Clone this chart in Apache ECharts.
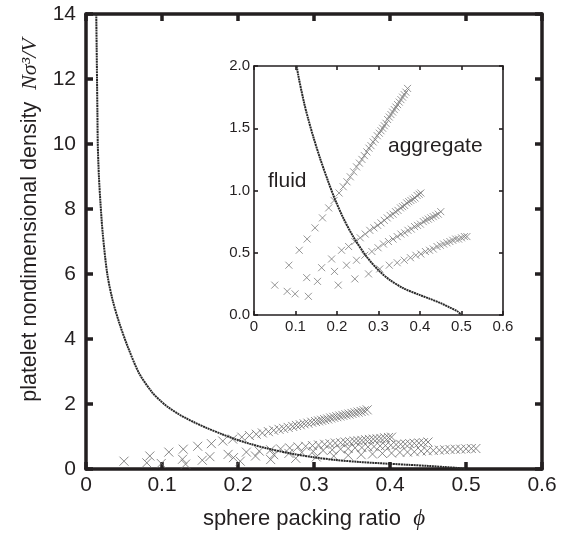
<!DOCTYPE html>
<html>
<head>
<meta charset="utf-8">
<script src="https://cdn.jsdelivr.net/npm/echarts@6/dist/echarts.min.js"></script>
<style>
html,body{margin:0;padding:0;background:#fff;}
#c{width:568px;height:534px;}
</style>
</head>
<body>
<div id="c"></div>
<script>
// Boundary curve (phi, density)
var curveX = [0.0135,0.014,0.0145,0.015,0.0155,0.017,0.019,0.022,0.028,0.035,0.044,0.055,0.070,0.087,0.097,0.107,0.121,0.131,0.143,0.159,0.179,0.195,0.215,0.239,0.271,0.300,0.328,0.360,0.400,0.424,0.450,0.472,0.490,0.500];
var curveY = [14,13,12,11,10,9,8.2,7.25,6.0,5.2,4.48,3.76,2.94,2.36,2.12,1.92,1.70,1.57,1.43,1.26,1.07,0.93,0.78,0.63,0.47,0.36,0.28,0.215,0.16,0.13,0.095,0.06,0.03,0.0];

// Cross series A
var aX = [0.050,0.084,0.109,0.128,0.147,0.165,0.180,0.193,0.205,0.215,0.224,0.232,0.240,0.247,0.254,0.260,0.266,0.272,0.277,0.282,0.287,0.292,0.297,0.302,0.306,0.310,0.314,0.318,0.322,0.326,0.330,0.334,0.338,0.342,0.346,0.350,0.354,0.358,0.362,0.366,0.370];
var aY = [0.24,0.40,0.52,0.61,0.70,0.78,0.86,0.92,0.98,1.03,1.07,1.11,1.15,1.19,1.22,1.25,1.28,1.31,1.34,1.36,1.39,1.41,1.44,1.46,1.48,1.50,1.52,1.54,1.57,1.59,1.61,1.63,1.65,1.67,1.69,1.71,1.73,1.75,1.77,1.79,1.82];
// Cross series B
var bX = [0.080,0.127,0.163,0.187,0.211,0.228,0.243,0.256,0.268,0.279,0.289,0.298,0.306,0.314,0.321,0.328,0.335,0.341,0.347,0.353,0.358,0.363,0.368,0.373,0.378,0.383,0.388,0.393,0.398,0.402];
var bY = [0.19,0.30,0.38,0.45,0.52,0.55,0.59,0.62,0.65,0.68,0.70,0.72,0.74,0.76,0.78,0.80,0.81,0.83,0.84,0.86,0.87,0.88,0.90,0.91,0.92,0.93,0.94,0.96,0.97,0.98];
// Cross series C
var cX = [0.099,0.153,0.194,0.223,0.247,0.267,0.284,0.299,0.312,0.324,0.335,0.345,0.354,0.363,0.371,0.379,0.387,0.394,0.401,0.408,0.414,0.420,0.426,0.432,0.438,0.444,0.450];
var cY = [0.17,0.27,0.35,0.40,0.44,0.48,0.51,0.54,0.57,0.59,0.61,0.63,0.65,0.66,0.68,0.69,0.71,0.72,0.73,0.75,0.76,0.77,0.78,0.79,0.80,0.81,0.83];
// Cross series D
var dX = [0.131,0.203,0.243,0.276,0.303,0.326,0.345,0.362,0.377,0.390,0.402,0.413,0.423,0.432,0.441,0.449,0.457,0.465,0.472,0.479,0.486,0.493,0.500,0.507,0.513];
var dY = [0.15,0.24,0.29,0.33,0.37,0.40,0.42,0.44,0.46,0.48,0.49,0.51,0.52,0.53,0.55,0.56,0.57,0.58,0.59,0.60,0.61,0.61,0.62,0.63,0.63];

// Tick settings
var mainXTicks = {min:0, max:0.6, interval:0.1};
var mainYTicks = {min:0, max:14, interval:2};
var insetXTicks = {min:0, max:0.6, interval:0.1};
var insetYTicks = {min:0, max:2, interval:0.5};

var labels = {
  xTitle: 'sphere packing ratio',
  xSym: 'ϕ',
  yTitle: 'platelet nondimensional density',
  ySym: 'Nσ³/V',
  fluid: 'fluid',
  aggregate: 'aggregate'
};

function pairs(xs, ys){ return xs.map(function(x,i){return [x, ys[i]];}); }

var INK = '#231f20';
var SANS = '"Liberation Sans", Arial, Helvetica, sans-serif';
var SERIF = '"Liberation Serif", "Times New Roman", serif';
var CROSS = 'path://M0 0L10 10M10 0L0 10';

function axisBase(r, opts){
  return Object.assign({
    type:'value', min:r.min, max:r.max, interval:r.interval,
    splitLine:{show:false},
    axisLine:{show:true, onZero:false, lineStyle:{color:INK, width:opts.lw}},
    axisTick:{show:true, inside:true, length:opts.tl, lineStyle:{color:INK, width:opts.lw}},
    axisLabel:{show:opts.showLabel, color:INK, fontFamily:SANS, fontSize:opts.fs, margin:opts.margin, formatter:opts.fmt}
  }, opts.extra || {});
}

var mainOpt = {lw:3.5, tl:7, fs:21};
var insetOpt = {lw:1.6, tl:4, fs:15};

var chart = echarts.init(document.getElementById('c'), null, {renderer:'canvas'});

function crossSeries(xs, ys, xi, yi, size, color){
  return {
    type:'scatter', xAxisIndex:xi, yAxisIndex:yi, data:pairs(xs, ys),
    symbol:CROSS, symbolSize:size, silent:true,
    itemStyle:{color:'rgba(0,0,0,0)', borderColor:color, borderWidth:1},
    z:3
  };
}
function curveSeries(xi, yi, w){
  return {
    type:'line', xAxisIndex:xi, yAxisIndex:yi, data:pairs(curveX, curveY),
    showSymbol:false, symbol:'none', smooth:0.3, clip:true, silent:true,
    lineStyle:{color:'#2a2a2a', width:w, type:[2,0.6]},
    z:4
  };
}

var option = {
  animation:false,
  backgroundColor:'#fff',
  grid:[
    {left:86, top:14, width:456, height:455, containLabel:false},
    {left:254, top:66, width:249, height:249, containLabel:false, show:true, backgroundColor:'#fff', borderWidth:0}
  ],
  xAxis:[
    axisBase(mainXTicks, Object.assign({}, mainOpt, {showLabel:true, margin:6, fmt:function(v){return v===0?'0':v.toFixed(1);}, extra:{gridIndex:0, position:'bottom'}})),
    axisBase(mainXTicks, Object.assign({}, mainOpt, {showLabel:false, extra:{gridIndex:0, position:'top'}})),
    axisBase(insetXTicks, Object.assign({}, insetOpt, {showLabel:true, margin:4, fmt:function(v){return v===0?'0':v.toFixed(1);}, extra:{gridIndex:1, position:'bottom'}})),
    axisBase(insetXTicks, Object.assign({}, insetOpt, {showLabel:false, extra:{gridIndex:1, position:'top'}}))
  ],
  yAxis:[
    axisBase(mainYTicks, Object.assign({}, mainOpt, {showLabel:true, margin:10, fmt:function(v){return String(v);}, extra:{gridIndex:0, position:'left'}})),
    axisBase(mainYTicks, Object.assign({}, mainOpt, {showLabel:false, extra:{gridIndex:0, position:'right'}})),
    axisBase(insetYTicks, Object.assign({}, insetOpt, {showLabel:true, margin:4, fmt:function(v){return v.toFixed(1);}, extra:{gridIndex:1, position:'left'}})),
    axisBase(insetYTicks, Object.assign({}, insetOpt, {showLabel:false, extra:{gridIndex:1, position:'right'}}))
  ],
  series:[
    curveSeries(0,0,2),
    crossSeries(aX,aY,0,0,9,'#6a6a6a'),
    crossSeries(bX,bY,0,0,9,'#6a6a6a'),
    crossSeries(cX,cY,0,0,9,'#6a6a6a'),
    crossSeries(dX,dY,0,0,9,'#6a6a6a'),
    curveSeries(2,2,2),
    crossSeries(aX,aY,2,2,7,'#7a7a7a'),
    crossSeries(bX,bY,2,2,7,'#7a7a7a'),
    crossSeries(cX,cY,2,2,7,'#7a7a7a'),
    crossSeries(dX,dY,2,2,7,'#7a7a7a')
  ],
  graphic:[
    {type:'text', x:314, y:519, z:10, silent:true, style:{
      text:'{a|' + labels.xTitle + '  }{b|' + labels.xSym + '}',
      align:'center', verticalAlign:'middle',
      rich:{a:{fontFamily:SANS, fontSize:22, fill:INK}, b:{fontFamily:SERIF, fontStyle:'italic', fontSize:23, fill:INK}}
    }},
    {type:'text', x:30, y:220, rotation:Math.PI/2, z:10, silent:true, style:{
      text:'{a|' + labels.yTitle + '  }{b|' + labels.ySym + '}',
      align:'center', verticalAlign:'middle',
      rich:{a:{fontFamily:SANS, fontSize:21.5, fill:INK}, b:{fontFamily:SERIF, fontStyle:'italic', fontSize:22, fill:INK}}
    }},
    {type:'text', x:268, y:181, z:10, silent:true, style:{
      text:labels.fluid, fontFamily:SANS, fontSize:21, fill:INK, align:'left', verticalAlign:'middle'
    }},
    {type:'text', x:388, y:146, z:10, silent:true, style:{
      text:labels.aggregate, fontFamily:SANS, fontSize:21, fill:INK, align:'left', verticalAlign:'middle'
    }}
  ]
};
chart.setOption(option);
</script>
</body>
</html>
